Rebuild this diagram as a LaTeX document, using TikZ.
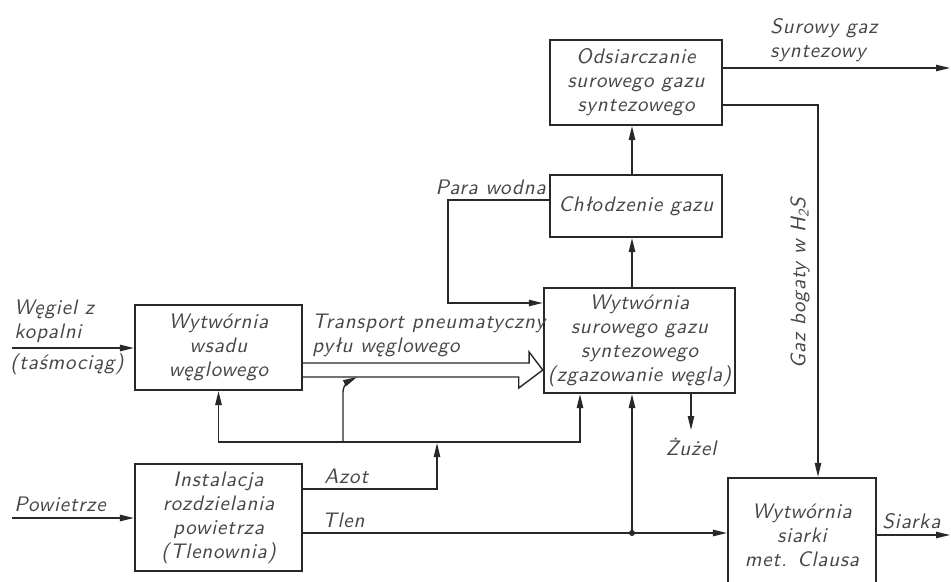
\documentclass[tikz,border=0pt]{standalone}
\usepackage{fontspec}
\usepackage{tikz}
\usetikzlibrary{calc,arrows.meta,positioning}
\newfontfamily\lettering{lmsans10-oblique.otf}[LetterSpace=4]
\definecolor{schemeInk}{RGB}{40,40,40}
\definecolor{schemeText}{RGB}{70,70,70}
\tikzset{
  unitbox/.style={draw=schemeInk, line width=1.1pt, align=center, inner sep=2pt, text=schemeText},
  flow/.style={draw=schemeInk, line width=0.7pt, -{Triangle[length=7pt,width=3.2pt]}},
  pipe/.style={draw=schemeInk, line width=0.7pt},
  lbl/.style={text=schemeText, inner sep=1pt, align=left},
}

\begin{document}
\begin{tikzpicture}[x=0.5pt,y=-0.5pt, font=\lettering\fontsize{10.5}{12}\selectfont]
\useasboundingbox[fill=white] (0,0) rectangle (951,582);

% process units
\node[unitbox, minimum width=83.5pt, minimum height=42.5pt] (wsad) at (218.5,347.5) {Wytwórnia\\wsadu\\węglowego};
\node[unitbox, minimum width=87.5pt, minimum height=52.5pt] (gazyf) at (639.5,340.5) {Wytwórnia\\surowego gazu\\syntezowego\\(zgazowanie węgla)};
\node[unitbox, minimum width=83.5pt, minimum height=53.5pt] (tlenownia) at (218.5,517.5) {Instalacja\\rozdzielania\\powietrza\\(Tlenownia)};
\node[unitbox, minimum width=74pt, minimum height=57pt] (claus) at (802,535) {Wytwórnia\\siarki\\met. Clausa};
\node[unitbox, minimum width=86pt, minimum height=42.5pt] (odsiarcz) at (636,82.5) {Odsiarczanie\\surowego gazu\\syntezowego};
\node[unitbox, minimum width=86pt, minimum height=31pt] (chlodz) at (636,206) {Chłodzenie gazu};

% helper points
\coordinate (coalIn) at (12,348);
\coordinate (airIn) at (12,518);
\coordinate (tap) at (632,533);
\coordinate (azot) at (437,489);
\coordinate (n2) at (437,442);
\coordinate (n2left) at (218.5,442);
\coordinate (n2right) at (580,442);
\coordinate (n2branch) at (343,442);
\coordinate (steam) at (448,200);
\coordinate (steamIn) at (448,303);
\coordinate (hs) at (818,105);
\coordinate (gasOut) at (950,68);
\coordinate (sOut) at (950,535);
\coordinate (slag) at (691,430);
\coordinate (tp) at (gazyf.west |- 0,370);

% feeds
\draw[flow] (coalIn) -- (wsad.west |- coalIn);
\draw[flow] (airIn) -- (tlenownia.west |- airIn);

% pneumatic transport
\draw[pipe, line join=miter] ($(wsad.east |- tp)+(0,-7)$) -- ++(226,0) -- ++(0,-11) -- (tp)
  -- ++(-24,18) -- ++(0,-11) -- ($(wsad.east |- tp)+(0,7)$);

% nitrogen
\draw[flow] (tlenownia.east |- azot) -- (azot) -- ($(n2)+(0,1)$);
\draw[flow] (n2) -- (n2left) -- (wsad.south);
\draw[flow] (n2) -- (n2right) -- (gazyf.south -| n2right);
\draw[flow] (n2branch) -- ++(0,-50) .. controls ++(0,-8) and ++(-6,3) .. ++(14,-15);

% oxygen
\draw[flow] (tlenownia.east |- tap) -- (claus.west |- tap);
\fill[schemeInk] (tap) circle (3);
\draw[flow] (tap) -- (gazyf.south -| tap);

% gas line
\draw[flow] (gazyf.north -| tap) -- (chlodz.south -| tap);
\draw[flow] (chlodz.north -| tap) -- (odsiarcz.south -| tap);
\draw[flow] (chlodz.west |- steam) -- (steam) -- (steamIn) -- (gazyf.west |- steamIn);
\draw[flow] (odsiarcz.east |- gasOut) -- (gasOut);
\draw[flow] (odsiarcz.east |- hs) -- (hs) -- (claus.north -| hs);
\draw[flow] (gazyf.south -| slag) -- (slag);
\draw[flow] (claus.east |- sOut) -- (sOut);

% labels
\node[lbl, anchor=south west] (lCoal) at (12,345) {Węgiel z\\kopalni};
\node[lbl, anchor=north west] (lBelt) at (8,351) {(taśmociąg)};
\node[lbl, anchor=south west] (lAir) at (12,514) {Powietrze};
\node[lbl, anchor=south west] (lTrans) at (310,359) {Transport pneumatyczny\\pyłu węglowego};
\node[lbl, anchor=south west] (lAzot) at (322,486) {Azot};
\node[lbl, anchor=south west] (lTlen) at (320,530) {Tlen};
\node[lbl, anchor=south east] (lSteam) at (548,197) {Para wodna};
\node[lbl, anchor=south west] (lGas) at (768,64) {Surowy gaz\\syntezowy};
\node[lbl, rotate=90] (lHs) at (800,283) {Gaz bogaty w H\textsubscript{2}S};
\node[lbl, anchor=north] (lSlag) at (691,436) {Żużel};
\node[lbl, anchor=south west] (lS) at (880,531) {Siarka};
\end{tikzpicture}
\end{document}
